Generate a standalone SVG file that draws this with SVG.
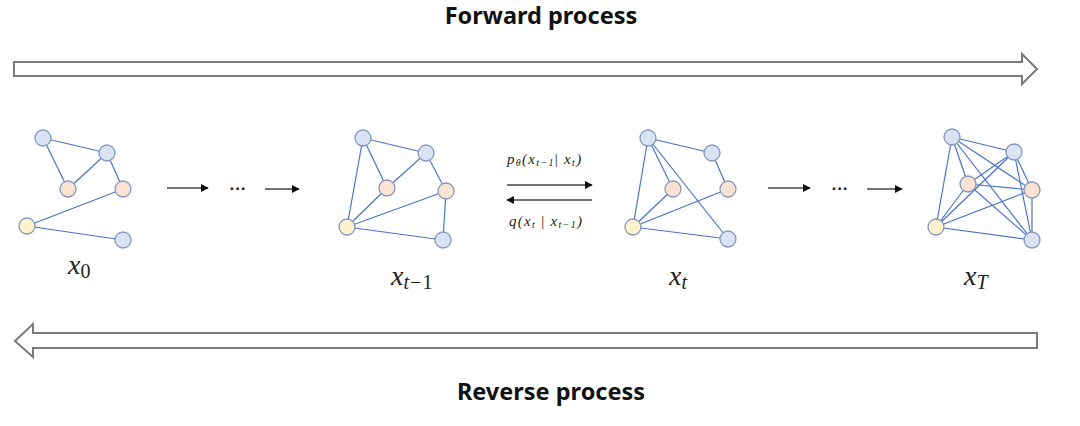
<svg xmlns="http://www.w3.org/2000/svg" width="1080" height="426" viewBox="0 0 1080 426">
<style>
.title{font-family:"Noto Sans","Liberation Sans",sans-serif;font-weight:bold;font-size:23.5px;fill:#111;text-anchor:middle}
.big{fill:#fff;stroke:#7a7a7a;stroke-width:2}
.e{stroke:#4a74c4;stroke-width:1.2;fill:none}
.nb{fill:#dae3f3;stroke:#8396bd;stroke-width:1.3}
.no{fill:#fbe2d3;stroke:#8396bd;stroke-width:1.3}
.ny{fill:#fff2cc;stroke:#8396bd;stroke-width:1.3}
.m{font-family:"Liberation Serif",serif;font-style:italic;fill:#222}
.lbl{font-size:28px}
.sub{font-size:20px}
.sm{font-family:"Liberation Serif",serif;font-style:italic;font-size:15px;letter-spacing:1.3px;fill:#222}
.ar{stroke:#444;stroke-width:1.6;fill:none}
.dots{font-family:"Liberation Sans",sans-serif;font-weight:bold;font-size:17px;fill:#222}
</style>
<defs>
<marker id="ah" viewBox="0 0 10 10" refX="9" refY="5" markerWidth="5" markerHeight="5" orient="auto" markerUnits="strokeWidth">
<path d="M0,0 L10,5 L0,10 z" fill="#111"/>
</marker>
</defs>

<text class="title" x="541" y="24">Forward process</text>
<text class="title" x="551" y="400">Reverse process</text>

<g id="forward-arrow">
<path class="big" d="M14,62 H1022 V54 L1037,69 L1022,84 V76 H14 Z"/>
</g>
<g id="reverse-arrow">
<path class="big" d="M1037,333 H33 V324 L15,341 L33,357 V348 H1037 Z"/>
</g>

<g id="connectors">
<line class="ar" x1="167" y1="188" x2="208" y2="188" marker-end="url(#ah)"/>
<line class="ar" x1="265" y1="189" x2="299" y2="189" marker-end="url(#ah)"/>
<line class="ar" x1="768" y1="188" x2="810" y2="188" marker-end="url(#ah)"/>
<line class="ar" x1="867" y1="189" x2="902" y2="189" marker-end="url(#ah)"/>
<line class="ar" x1="507" y1="185" x2="592" y2="185" marker-end="url(#ah)"/>
<line class="ar" x1="592" y1="200" x2="507" y2="200" marker-end="url(#ah)"/>
</g>
<text class="dots" x="238" y="194" text-anchor="middle">···</text>
<text class="dots" x="840" y="194" text-anchor="middle">···</text>

<text class="sm" x="507" y="164">p<tspan font-size="10" dy="2">θ</tspan><tspan dy="-2">(x</tspan><tspan font-size="10" dy="2">t−1</tspan><tspan dy="-2" font-style="normal">|  </tspan>x<tspan font-size="10" dy="2">t</tspan><tspan dy="-2">)</tspan></text>
<text class="sm" x="509" y="226">q(x<tspan font-size="10" dy="2">t</tspan><tspan dy="-2" font-style="normal"> | </tspan>x<tspan font-size="10" dy="2">t−1</tspan><tspan dy="-2">)</tspan></text>

<g id="graph-x0">
<line class="e" x1="43" y1="138" x2="107" y2="153"/>
<line class="e" x1="43" y1="138" x2="68" y2="189"/>
<line class="e" x1="107" y1="153" x2="68" y2="189"/>
<line class="e" x1="107" y1="153" x2="123" y2="189"/>
<line class="e" x1="123" y1="189" x2="27" y2="226"/>
<line class="e" x1="27" y1="226" x2="123" y2="240"/>
<circle class="nb" cx="43" cy="138" r="8"/>
<circle class="nb" cx="107" cy="153" r="8"/>
<circle class="no" cx="68" cy="189" r="8"/>
<circle class="no" cx="123" cy="189" r="8"/>
<circle class="ny" cx="27" cy="226" r="8"/>
<circle class="nb" cx="123" cy="240" r="8"/>
<text class="m lbl" x="68" y="274">x<tspan class="sub" font-style="normal" dy="4">0</tspan></text>
</g>

<g id="graph-xt-1">
<line class="e" x1="363" y1="138" x2="426" y2="153"/>
<line class="e" x1="363" y1="138" x2="387" y2="188"/>
<line class="e" x1="363" y1="138" x2="347" y2="227"/>
<line class="e" x1="426" y1="153" x2="387" y2="188"/>
<line class="e" x1="426" y1="153" x2="446" y2="191"/>
<line class="e" x1="387" y1="188" x2="347" y2="227"/>
<line class="e" x1="446" y1="191" x2="347" y2="227"/>
<line class="e" x1="446" y1="191" x2="443" y2="240"/>
<line class="e" x1="347" y1="227" x2="443" y2="240"/>
<circle class="nb" cx="363" cy="138" r="8"/>
<circle class="nb" cx="426" cy="153" r="8"/>
<circle class="no" cx="387" cy="188" r="8"/>
<circle class="no" cx="446" cy="191" r="8"/>
<circle class="ny" cx="347" cy="227" r="8"/>
<circle class="nb" cx="443" cy="240" r="8"/>
<text class="m lbl" x="391" y="285">x<tspan class="sub" dy="4">t−<tspan font-style="normal">1</tspan></tspan></text>
</g>

<g id="graph-xt">
<line class="e" x1="648" y1="138" x2="712" y2="153"/>
<line class="e" x1="648" y1="138" x2="673" y2="189"/>
<line class="e" x1="648" y1="138" x2="633" y2="227"/>
<line class="e" x1="648" y1="138" x2="728" y2="239"/>
<line class="e" x1="712" y1="153" x2="728" y2="189"/>
<line class="e" x1="673" y1="189" x2="633" y2="227"/>
<line class="e" x1="728" y1="189" x2="633" y2="227"/>
<line class="e" x1="633" y1="227" x2="728" y2="239"/>
<circle class="nb" cx="648" cy="138" r="8"/>
<circle class="nb" cx="712" cy="153" r="8"/>
<circle class="no" cx="673" cy="189" r="8"/>
<circle class="no" cx="728" cy="189" r="8"/>
<circle class="ny" cx="633" cy="227" r="8"/>
<circle class="nb" cx="728" cy="239" r="8"/>
<text class="m lbl" x="669" y="285">x<tspan class="sub" dy="4">t</tspan></text>
</g>

<g id="graph-xT">
<line class="e" x1="952" y1="137" x2="1014" y2="152"/>
<line class="e" x1="952" y1="137" x2="968" y2="184"/>
<line class="e" x1="952" y1="137" x2="1032" y2="190"/>
<line class="e" x1="952" y1="137" x2="936" y2="227"/>
<line class="e" x1="952" y1="137" x2="1032" y2="240"/>
<line class="e" x1="1014" y1="152" x2="968" y2="184"/>
<line class="e" x1="1014" y1="152" x2="1032" y2="190"/>
<line class="e" x1="1014" y1="152" x2="936" y2="227"/>
<line class="e" x1="1014" y1="152" x2="1032" y2="240"/>
<line class="e" x1="968" y1="184" x2="1032" y2="190"/>
<line class="e" x1="968" y1="184" x2="936" y2="227"/>
<line class="e" x1="968" y1="184" x2="1032" y2="240"/>
<line class="e" x1="1032" y1="190" x2="936" y2="227"/>
<line class="e" x1="1032" y1="190" x2="1032" y2="240"/>
<line class="e" x1="936" y1="227" x2="1032" y2="240"/>
<circle class="nb" cx="952" cy="137" r="8"/>
<circle class="nb" cx="1014" cy="152" r="8"/>
<circle class="no" cx="968" cy="184" r="8"/>
<circle class="no" cx="1032" cy="190" r="8"/>
<circle class="ny" cx="936" cy="227" r="8"/>
<circle class="nb" cx="1032" cy="240" r="8"/>
<text class="m lbl" x="964" y="285">x<tspan class="sub" dy="4">T</tspan></text>
</g>
</svg>
